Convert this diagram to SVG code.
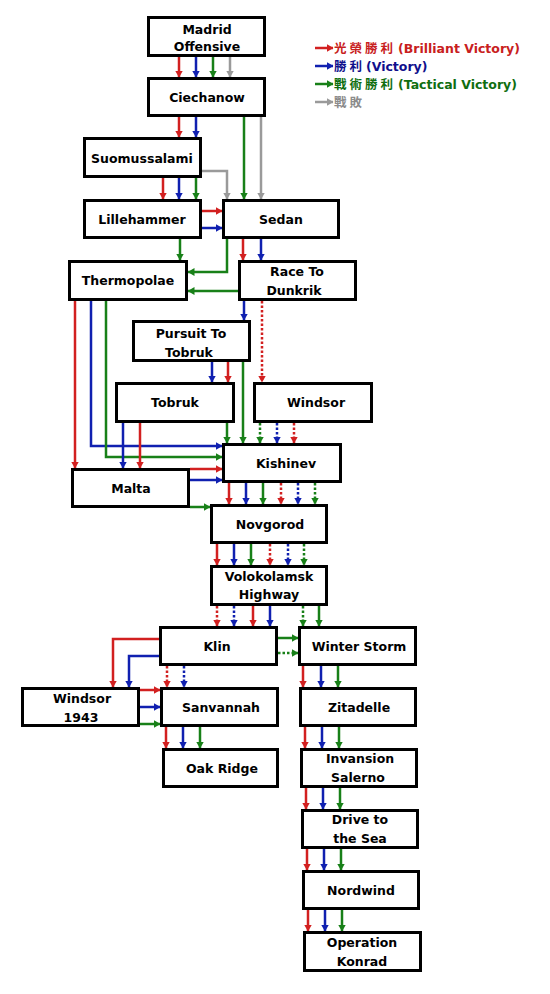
<svg xmlns="http://www.w3.org/2000/svg" width="550" height="994" viewBox="0 0 550 994">
<style>
.box{fill:#fff;stroke:#000;stroke-width:3}
.t{font-family:"DejaVu Sans","Noto Sans CJK TC",sans-serif;font-weight:bold;font-size:12.5px;fill:#000;text-anchor:middle}
.c{fill:none;stroke-width:2.5}
.r{stroke:#d22020}.b{stroke:#1020b0}.g{stroke:#188018}.k{stroke:#9a9a9a}
.d{stroke-dasharray:2.5,2}
.r{marker-end:url(#mr)}.b{marker-end:url(#mb)}.g{marker-end:url(#mg)}.k{marker-end:url(#mk)}
.lg{font-family:"DejaVu Sans",sans-serif;font-weight:bold;font-size:12.5px}
.cjk{font-family:"Noto Sans CJK TC",sans-serif;font-size:12.5px;letter-spacing:3px;font-weight:bold}
</style>
<defs>
<marker id="mr" markerUnits="userSpaceOnUse" markerWidth="7" markerHeight="8" refX="6.5" refY="4" orient="auto"><path d="M0,0 L7,4 L0,8 z" fill="#d22020"/></marker>
<marker id="mb" markerUnits="userSpaceOnUse" markerWidth="7" markerHeight="8" refX="6.5" refY="4" orient="auto"><path d="M0,0 L7,4 L0,8 z" fill="#1020b0"/></marker>
<marker id="mg" markerUnits="userSpaceOnUse" markerWidth="7" markerHeight="8" refX="6.5" refY="4" orient="auto"><path d="M0,0 L7,4 L0,8 z" fill="#188018"/></marker>
<marker id="mk" markerUnits="userSpaceOnUse" markerWidth="7" markerHeight="8" refX="6.5" refY="4" orient="auto"><path d="M0,0 L7,4 L0,8 z" fill="#9a9a9a"/></marker>
</defs>
<rect width="550" height="994" fill="#fff"/>

<g id="connectors">
<path class="c r" d="M179,57V77"/><path class="c b" d="M196,57V77"/><path class="c g" d="M213,57V77"/><path class="c k" d="M230,57V77"/>
<path class="c r" d="M179,117V137"/><path class="c b" d="M196,117V137"/>
<path class="c g" d="M244,117V199"/><path class="c k" d="M261,117V199"/>
<path class="c k" d="M202,171H227V199"/>
<path class="c r" d="M163,178V199"/><path class="c b" d="M179,178V199"/><path class="c g" d="M196,178V199"/>
<path class="c r" d="M202,211H222"/><path class="c b" d="M202,228H222"/>
<path class="c g" d="M180,239V260"/>
<path class="c g" d="M227,239V272H188"/>
<path class="c r" d="M243,239V260"/><path class="c b" d="M261,239V260"/>
<path class="c g" d="M238,291H188"/>
<path class="c b" d="M244,301V320"/>
<path class="c r d" d="M262,301V382"/>
<path class="c b" d="M212,362V382"/><path class="c r" d="M228,362V382"/>
<path class="c g" d="M243,362V443"/>
<path class="c g" d="M227,423V443"/>
<path class="c r" d="M75,301V468"/>
<path class="c b" d="M91,301V446H222"/>
<path class="c g" d="M106,301V457H222"/>
<path class="c b" d="M123,423V468"/><path class="c r" d="M140,423V468"/>
<path class="c g d" d="M260,423V443"/><path class="c b d" d="M277,423V443"/><path class="c r d" d="M294,423V443"/>
<path class="c r" d="M190,469H222"/><path class="c b" d="M190,480H222"/>
<path class="c g" d="M190,507H210"/>
<path class="c r" d="M229,483V504"/><path class="c b" d="M246,483V504"/><path class="c g" d="M263,483V504"/>
<path class="c r d" d="M281,483V504"/><path class="c b d" d="M298,483V504"/><path class="c g d" d="M315,483V504"/>
<path class="c r" d="M217,544V565"/><path class="c b" d="M234,544V565"/><path class="c g" d="M251,544V565"/>
<path class="c r d" d="M270,544V565"/><path class="c b d" d="M288,544V565"/><path class="c g d" d="M304,544V565"/>
<path class="c r d" d="M217,606V626"/><path class="c b d" d="M234,606V626"/><path class="c r" d="M253,606V626"/><path class="c b" d="M270,606V626"/>
<path class="c g d" d="M303,606V626"/><path class="c g" d="M319,606V626"/>
<path class="c r" d="M159,639H113V687"/><path class="c b" d="M159,656H129V687"/>
<path class="c g" d="M278,638H298"/><path class="c g d" d="M278,653H298"/>
<path class="c r d" d="M167,666V687"/><path class="c b d" d="M184,666V687"/>
<path class="c r" d="M140,690H160"/><path class="c b" d="M140,707H160"/><path class="c g" d="M140,724H160"/>
<path class="c r" d="M166,727V748"/><path class="c b" d="M183,727V748"/><path class="c g" d="M200,727V748"/>
<path class="c r" d="M303,666V687"/><path class="c b" d="M321,666V687"/><path class="c g" d="M338,666V687"/>
<path class="c r" d="M305,727V748"/><path class="c b" d="M322,727V748"/><path class="c g" d="M339,727V748"/>
<path class="c r" d="M306,788V809"/><path class="c b" d="M323,788V809"/><path class="c g" d="M340,788V809"/>
<path class="c r" d="M307,849V870"/><path class="c b" d="M324,849V870"/><path class="c g" d="M341,849V870"/>
<path class="c r" d="M308,910V931"/><path class="c b" d="M325,910V931"/><path class="c g" d="M342,910V931"/>
</g>

<g id="madrid"><rect class="box" x="148.5" y="17.5" width="116" height="38"/><text class="t" x="207" y="34">Madrid</text><text class="t" x="207" y="51">Offensive</text></g>
<g id="ciechanow"><rect class="box" x="148.5" y="78.5" width="116" height="37"/><text class="t" x="207" y="102">Ciechanow</text></g>
<g id="suomussalami"><rect class="box" x="84.5" y="138.5" width="116" height="38"/><text class="t" x="142" y="162.5">Suomussalami</text></g>
<g id="lillehammer"><rect class="box" x="84.5" y="200.5" width="116" height="37"/><text class="t" x="142" y="224">Lillehammer</text></g>
<g id="sedan"><rect class="box" x="223.5" y="200.5" width="115" height="37"/><text class="t" x="281" y="224">Sedan</text></g>
<g id="thermopolae"><rect class="box" x="69.5" y="261.5" width="117" height="38"/><text class="t" x="128" y="285">Thermopolae</text></g>
<g id="race"><rect class="box" x="239.5" y="261.5" width="116" height="38"/><text class="t" x="297" y="276">Race To</text><text class="t" x="294" y="295">Dunkrik</text></g>
<g id="pursuit"><rect class="box" x="133.5" y="321.5" width="116" height="39"/><text class="t" x="191" y="338">Pursuit To</text><text class="t" x="189" y="357">Tobruk</text></g>
<g id="tobruk"><rect class="box" x="116.5" y="383.5" width="117" height="38"/><text class="t" x="175" y="407">Tobruk</text></g>
<g id="windsor"><rect class="box" x="254.5" y="383.5" width="117" height="38"/><text class="t" x="316" y="407">Windsor</text></g>
<g id="kishinev"><rect class="box" x="223.5" y="444.5" width="117" height="37"/><text class="t" x="286" y="467.5">Kishinev</text></g>
<g id="malta"><rect class="box" x="72.5" y="469.5" width="116" height="37"/><text class="t" x="131" y="493">Malta</text></g>
<g id="novgorod"><rect class="box" x="211.5" y="505.5" width="115" height="37"/><text class="t" x="270" y="529">Novgorod</text></g>
<g id="volokolamsk"><rect class="box" x="211.5" y="566.5" width="115" height="38"/><text class="t" x="269" y="581">Volokolamsk</text><text class="t" x="269" y="599">Highway</text></g>
<g id="klin"><rect class="box" x="160.5" y="627.5" width="116" height="37"/><text class="t" x="217" y="650.5">Klin</text></g>
<g id="winterstorm"><rect class="box" x="299.5" y="627.5" width="116" height="37"/><text class="t" x="359" y="650.5">Winter Storm</text></g>
<g id="windsor1943"><rect class="box" x="22.5" y="688.5" width="116" height="37"/><text class="t" x="82" y="703">Windsor</text><text class="t" x="81" y="722">1943</text></g>
<g id="sanvannah"><rect class="box" x="161.5" y="688.5" width="116" height="37"/><text class="t" x="221" y="712">Sanvannah</text></g>
<g id="zitadelle"><rect class="box" x="300.5" y="688.5" width="115" height="37"/><text class="t" x="359" y="712">Zitadelle</text></g>
<g id="oakridge"><rect class="box" x="163.5" y="749.5" width="114" height="37"/><text class="t" x="222" y="773">Oak Ridge</text></g>
<g id="salerno"><rect class="box" x="301.5" y="749.5" width="115" height="37"/><text class="t" x="360" y="763">Invansion</text><text class="t" x="358" y="782">Salerno</text></g>
<g id="drive"><rect class="box" x="302.5" y="810.5" width="115" height="37"/><text class="t" x="360" y="824">Drive to</text><text class="t" x="360" y="843">the Sea</text></g>
<g id="nordwind"><rect class="box" x="303.5" y="871.5" width="115" height="37"/><text class="t" x="361" y="894.5">Nordwind</text></g>
<g id="konrad"><rect class="box" x="304.5" y="932.5" width="116" height="38"/><text class="t" x="362" y="947">Operation</text><text class="t" x="362" y="966">Konrad</text></g>

<g id="legend">
<path class="c r" d="M315,48H333"/>
<path class="c b" d="M315,66H333"/>
<path class="c g" d="M315,84H333"/>
<path class="c k" d="M315,102H333"/>
<text class="cjk" x="334" y="53" fill="#c82020">光榮勝利</text><text class="lg" x="398" y="53" fill="#c82020">(Brilliant Victory)</text>
<text class="cjk" x="334" y="71" fill="#10108c">勝利</text><text class="lg" x="366" y="71" fill="#10108c">(Victory)</text>
<text class="cjk" x="334" y="89" fill="#106e10">戰術勝利</text><text class="lg" x="398" y="89" fill="#106e10">(Tactical Victory)</text>
<text class="cjk" x="334" y="107" fill="#8c8c8c">戰敗</text>
</g>
</svg>
